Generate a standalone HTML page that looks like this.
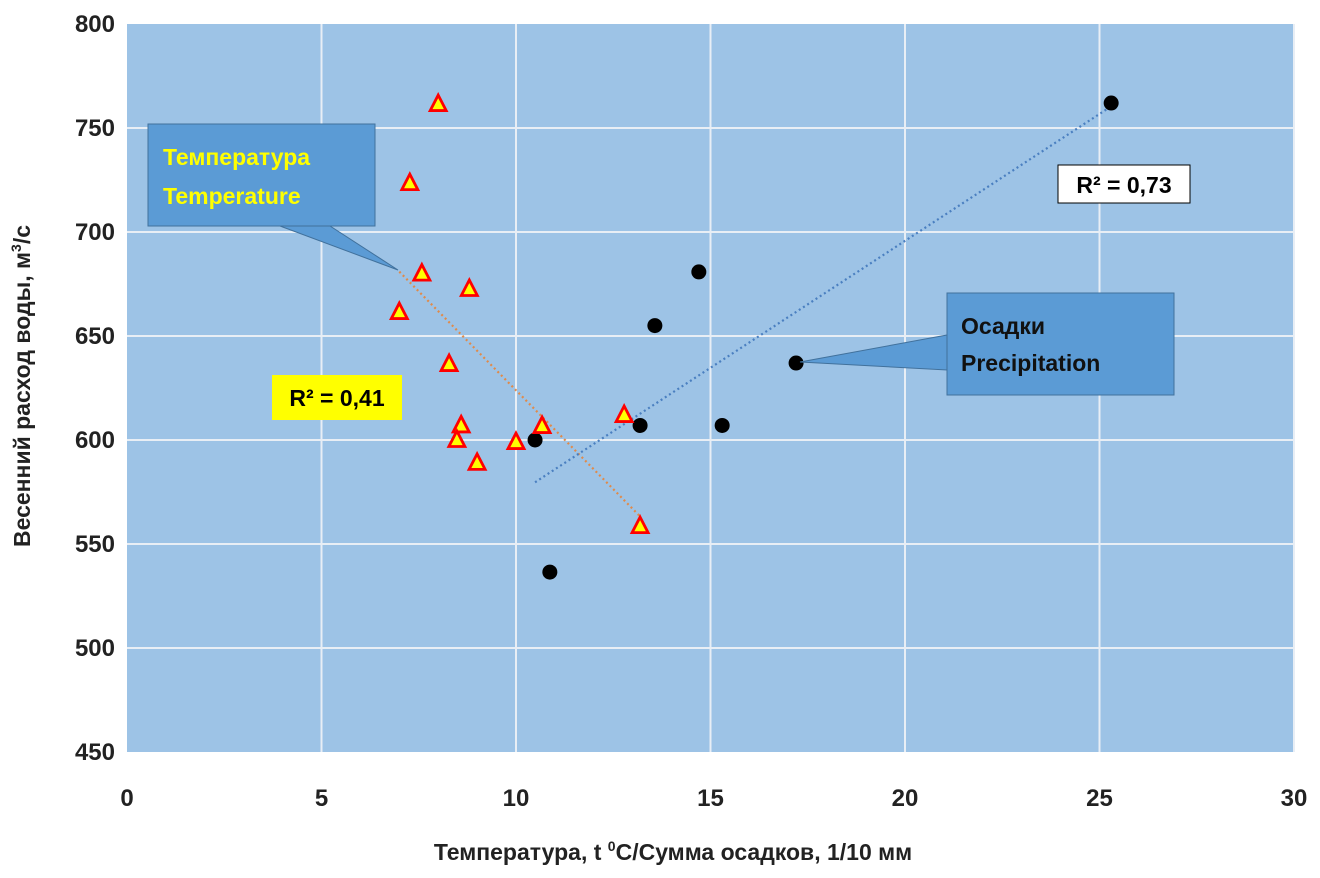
<!DOCTYPE html>
<html><head><meta charset="utf-8"><style>
body{margin:0;background:#fff;width:1320px;height:873px;overflow:hidden}
text{font-family:"Liberation Sans","DejaVu Sans",sans-serif;font-weight:bold}
</style></head><body>
<svg id="chart" width="1320" height="873" xmlns="http://www.w3.org/2000/svg">
<rect x="127" y="24" width="1167" height="728" fill="#9dc3e6"/>
<g id="grid"></g>
<g id="ticks"></g>
<g id="trends"></g>
<g id="marks"></g>
<text x="673" y="860" font-size="23" text-anchor="middle" fill="#222">Температура, t <tspan font-size="14" dy="-9">0</tspan><tspan dy="9">C/Сумма осадков, 1/10 мм</tspan></text>
<text transform="translate(30,386) rotate(-90)" font-size="23" text-anchor="middle" fill="#222">Весенний расход воды, м<tspan font-size="14" dy="-9">3</tspan><tspan dy="9">/с</tspan></text>
<g>
<polygon points="280,226 330,226 398,270" fill="#5b9bd5" stroke="#41719c"/>
<rect x="148" y="124" width="227" height="102" fill="#5b9bd5" stroke="#41719c"/>
<text x="163" y="165" font-size="23" fill="#ffff00">Температура</text>
<text x="163" y="204" font-size="23" fill="#ffff00">Temperature</text>
</g>
<g>
<polygon points="947,335 947,370 800,362" fill="#5b9bd5" stroke="#41719c"/>
<rect x="947" y="293" width="227" height="102" fill="#5b9bd5" stroke="#41719c"/>
<text x="961" y="334" font-size="23" fill="#111">Осадки</text>
<text x="961" y="371" font-size="23" fill="#111">Precipitation</text>
</g>
<g>
<rect x="1058" y="165" width="132" height="38" fill="#fff" stroke="#000"/>
<text x="1124" y="193" font-size="23" text-anchor="middle" fill="#000">R² = 0,73</text>
</g>
<g>
<rect x="272" y="375" width="130" height="45" fill="#ffff00"/>
<text x="337" y="406" font-size="23" text-anchor="middle" fill="#000">R² = 0,41</text>
</g>
</svg>
<script>
const xTicks=[0,5,10,15,20,25,30];
const yTicks=[450,500,550,600,650,700,750,800];
const tempX=[8.0,7.27,7.58,8.8,7.0,8.28,8.59,8.48,9.0,10.0,10.67,12.78,13.19];
const tempY=[761.5,723.5,680,672.6,661.5,636.5,607,600,589,599,606.7,612,558.6];
const precX=[10.49,10.87,13.19,13.57,14.7,15.3,17.2,25.3];
const precY=[600,536.5,607,655,680.8,607,637,762];
const NS='http://www.w3.org/2000/svg';
const X0=127,X1=1294,Y0=752,Y1=24;
function sx(v){return X0+(v-0)/(30-0)*(X1-X0);}
function sy(v){return Y0-(v-450)/(800-450)*(Y0-Y1);}
function mk(tag,attrs,parent){const e=document.createElementNS(NS,tag);for(const k in attrs)e.setAttribute(k,attrs[k]);parent.appendChild(e);return e;}
const grid=document.getElementById('grid'),ticks=document.getElementById('ticks'),trends=document.getElementById('trends'),marks=document.getElementById('marks');
xTicks.forEach(t=>{
 if(t>0){const l=mk('line',{x1:sx(t),x2:sx(t),y1:Y1,y2:Y0,stroke:'#e8eef5','stroke-width':2},grid);
 
 }
 const tx=mk('text',{x:sx(t),y:Y0+54,'font-size':24,'text-anchor':'middle',fill:'#222'},ticks);tx.textContent=t;
 
 
});
yTicks.forEach(t=>{
 if(t>450&&t<800){const l=mk('line',{x1:X0,x2:X1,y1:sy(t),y2:sy(t),stroke:'#e8eef5','stroke-width':2},grid);
 
 }
 const tx=mk('text',{x:X0-12,y:sy(t)+8,'font-size':24,'text-anchor':'end',fill:'#222'},ticks);tx.textContent=t;
 
 
});
function fit(xs,ys){const n=xs.length;let mx=0,my=0;xs.forEach((v,i)=>{mx+=v;my+=ys[i];});mx/=n;my/=n;let a=0,b=0;xs.forEach((v,i)=>{a+=(v-mx)*(ys[i]-my);b+=(v-mx)*(v-mx);});const s=a/b;return [s,my-s*mx];}
function trend(xs,ys,col,name){const [s,c]=fit(xs,ys);const lo=Math.min(...xs),hi=Math.max(...xs);
 const l=mk('line',{x1:sx(lo),y1:sy(s*lo+c),x2:sx(hi),y2:sy(s*hi+c),stroke:col,'stroke-width':2.2,'stroke-dasharray':'2 3'},trends);
 
 }
trend(tempX,tempY,'#e08a4a','temperature-trendline');
trend(precX,precY,'#4a7fc0','precipitation-trendline');
precX.forEach((v,i)=>{const c=mk('circle',{cx:sx(v),cy:sy(precY[i]),r:7.5,fill:'#000'},marks);
 
 });
tempX.forEach((v,i)=>{const x=sx(v),y=sy(tempY[i]);
 const p=mk('polygon',{points:`${x},${y-9} ${x+8},${y+6.5} ${x-8},${y+6.5}`,fill:'#ffff00',stroke:'#ff0000','stroke-width':2.8,'stroke-linejoin':'miter'},marks);
 
 });
</script>
</body></html>
